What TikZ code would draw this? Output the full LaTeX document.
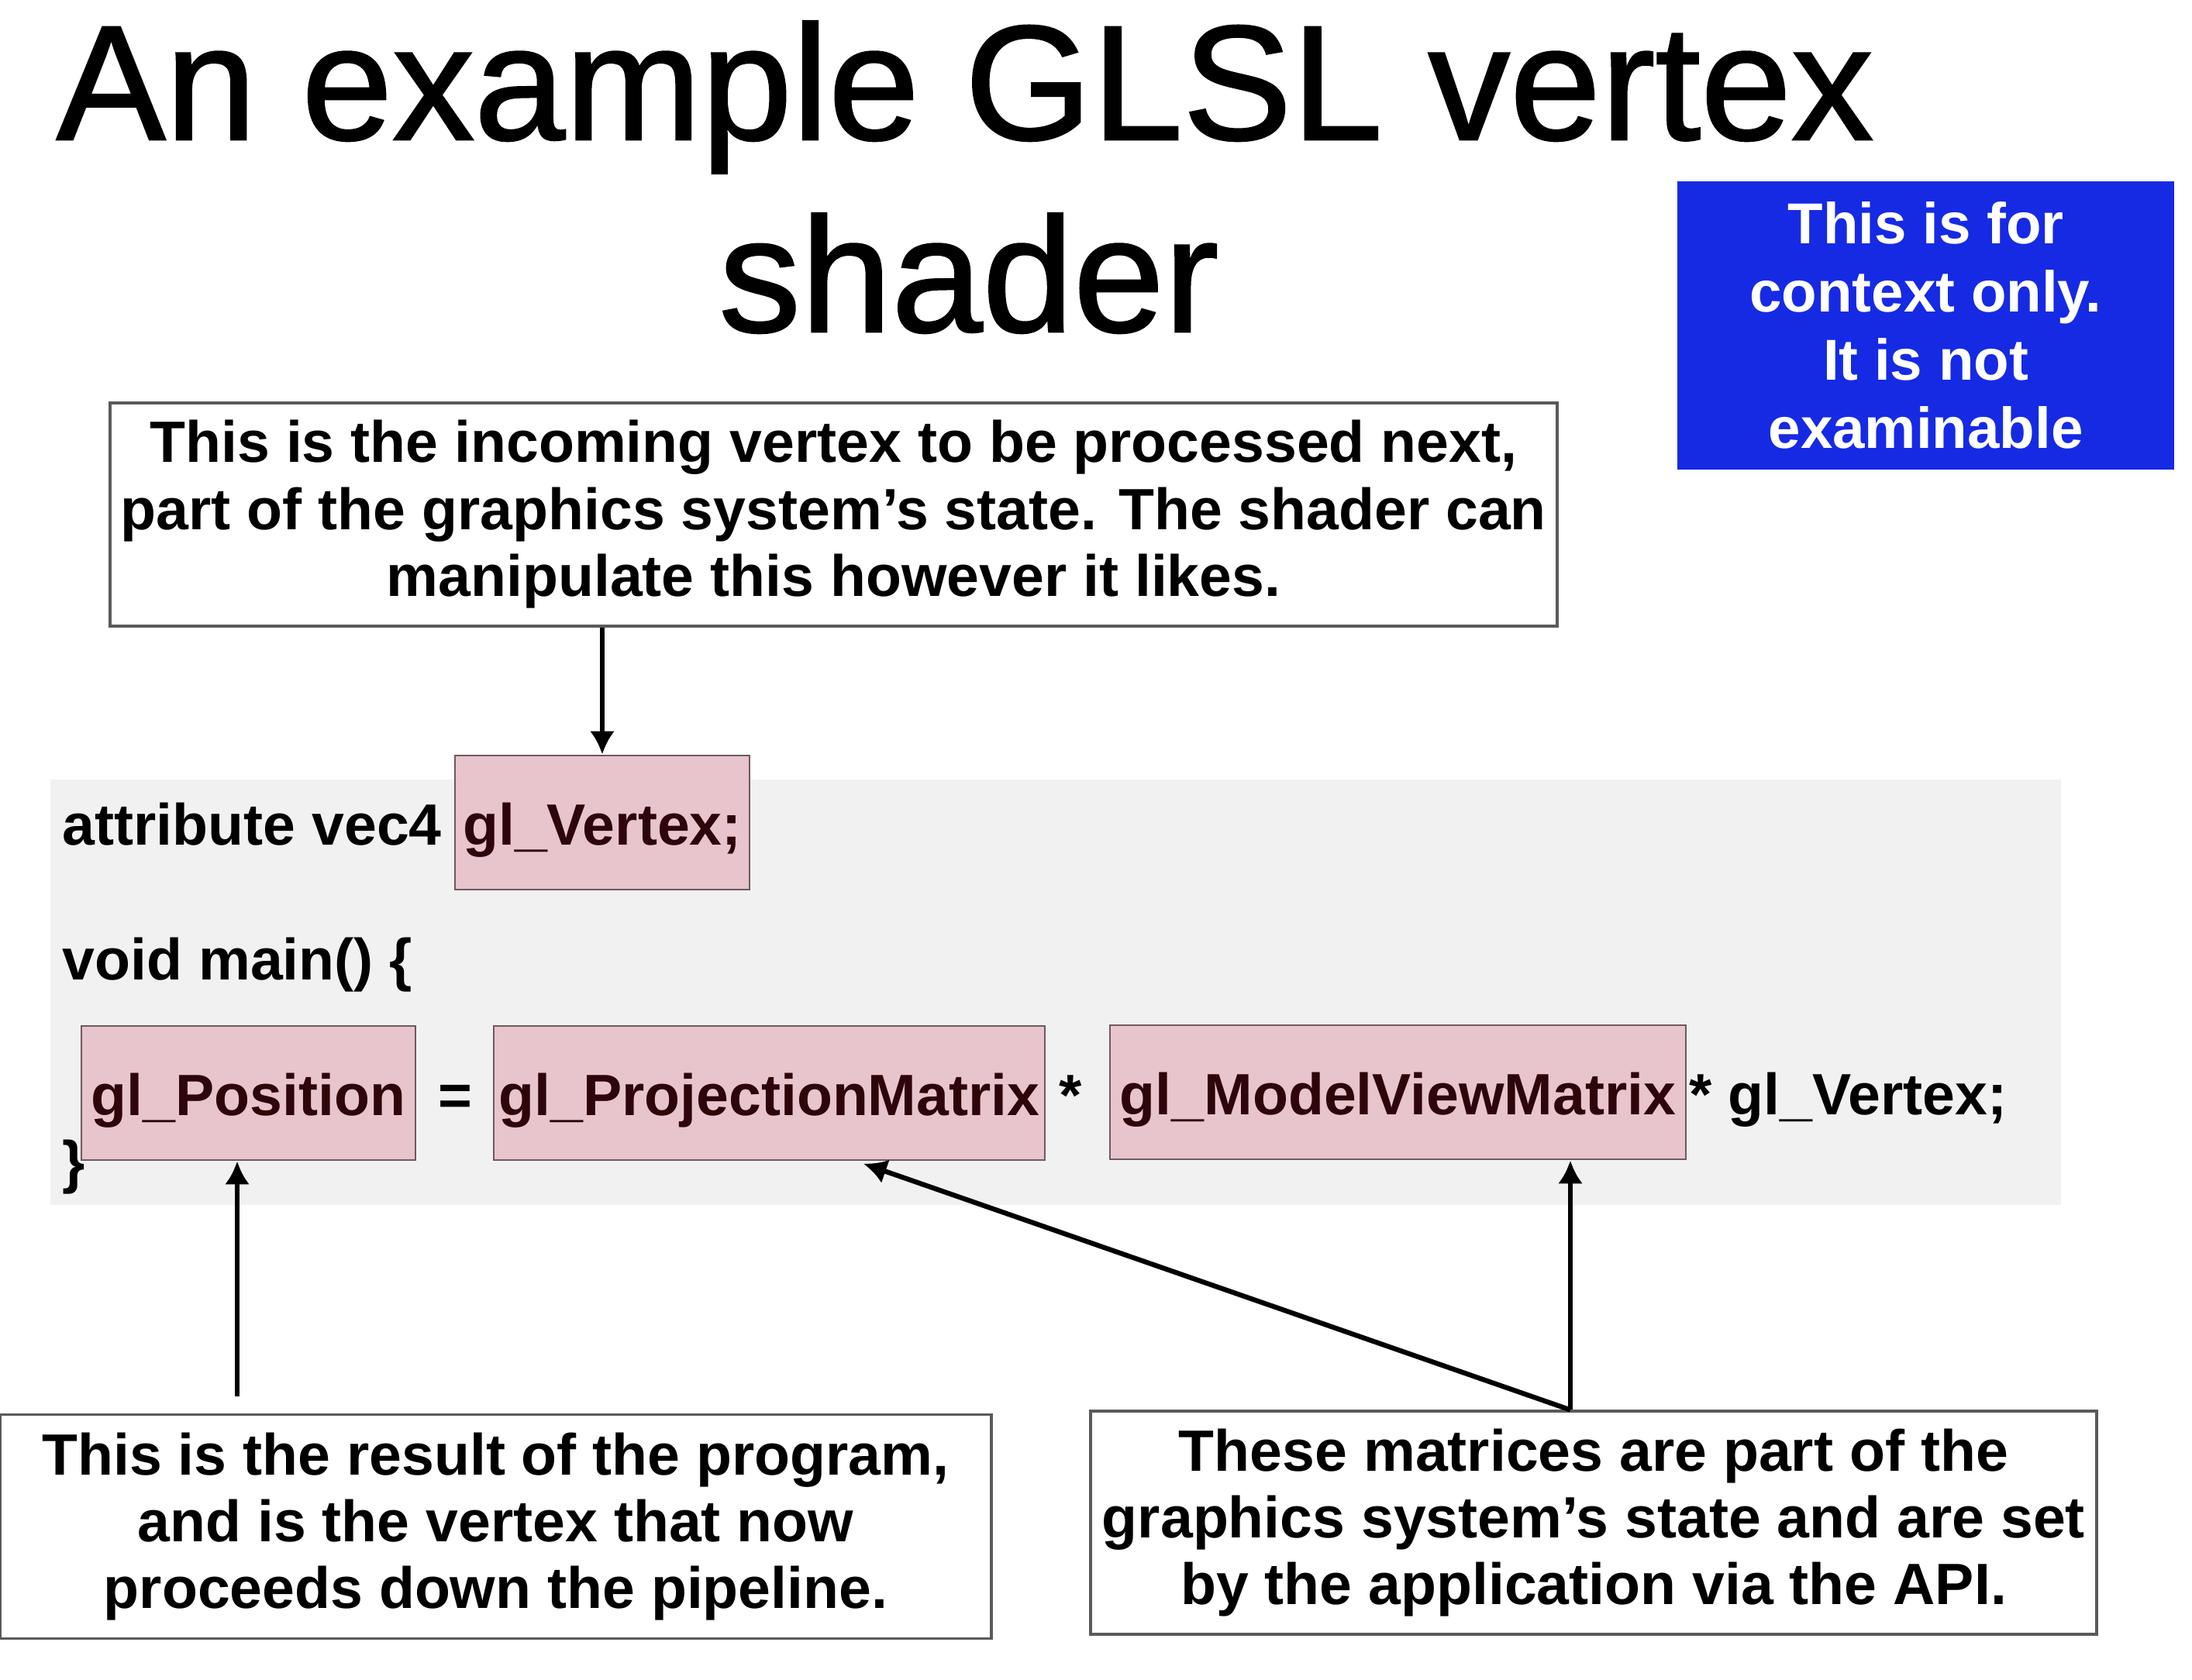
\documentclass[tikz,border=0pt]{standalone}
\usepackage{fontspec}
\setmainfont{Liberation Sans}
\newfontfamily\titlefont[FakeBold=1.2]{Liberation Sans}
\usepackage{tikz}
\usetikzlibrary{arrows.meta,positioning,calc}
\definecolor{notebg}{RGB}{22,42,228}
\definecolor{panelbg}{RGB}{241,241,241}
\definecolor{hlbg}{RGB}{232,196,205}
\definecolor{hlline}{RGB}{110,90,95}
\definecolor{hltext}{RGB}{45,5,10}
\definecolor{calline}{RGB}{90,90,90}
\tikzset{
  callout/.style={
    draw=calline,
    fill=white,
    line width=0.9pt,
    align=center,
    inner sep=0pt,
    font=\fontsize{21.4}{24.6}\selectfont\bfseries
  },
  notebox/.style={
    fill=notebg,
    text=white,
    align=center,
    inner sep=0pt,
    minimum width=6.41cm,
    minimum height=3.72cm,
    font=\fontsize{21.2}{25}\selectfont\bfseries
  },
  codebox/.style={
    draw=hlline,
    fill=hlbg,
    text=hltext,
    line width=0.8pt,
    inner sep=0pt,
    text height=1.15cm,
    text depth=0.58cm,
    anchor=base,
    font=\fontsize{21.4}{25}\selectfont\bfseries
  },
  codetext/.style={inner sep=0pt, font=\fontsize{21.4}{25}\selectfont\bfseries},
  titletext/.style={inner sep=0pt, anchor=base, font=\titlefont\fontsize{60}{70}\selectfont},
  arrow/.style={-{Latex[length=3mm,width=3.2mm]}, line width=1.8pt}
}

\begin{document}
\begin{tikzpicture}
  \useasboundingbox (0,0) rectangle (28.28,-21.68);

  \node[titletext] (title1) at (12.45,-1.80) {An example GLSL vertex};
  \node[titletext] (title2) at (12.50,-4.28) {shader};
  \node[notebox] (note) at (24.845,-4.20) {This is for\\context only.\\It is not\\examinable};
  \node[callout, minimum width=18.67cm, minimum height=2.88cm] (incoming) at (10.755,-6.64)
    {This is the incoming vertex to be processed next,\\part of the graphics system’s state. The shader can\\manipulate this however it likes.};

  % code panel
  \fill[panelbg] (0.65,-10.06) rectangle (26.59,-15.55);
  \node[codebox, minimum width=3.80cm] (vtx) at (7.77,-10.90) {gl\_Vertex;\hspace{0.22cm}};
  \node[codetext, anchor=base west] (attr) at (0.80,-10.90) {attribute vec4};
  \node[codetext, anchor=base west] (mainl) at (0.80,-12.64) {void main() \{};
  \node[codebox, minimum width=4.31cm] (pos) at (3.205,-14.39) {gl\_Position};
  \node[codetext, anchor=base] (eq) at (5.87,-14.39) {=};
  \node[codebox, minimum width=7.11cm] (proj) at (9.925,-14.39) {gl\_ProjectionMatrix\hspace{0.2cm}};
  \node[codetext, anchor=base] (times) at (13.81,-14.39) {*};
  \node[codebox, minimum width=7.43cm] (mv) at (18.035,-14.38) {gl\_ModelViewMatrix};
  \node[codetext, anchor=base west] (tail) at (21.79,-14.38) {* gl\_Vertex;};
  \node[codetext, anchor=base west] (close) at (0.80,-15.25) {\}};

  \node[callout, minimum width=12.79cm, minimum height=2.89cm] (result) at (6.395,-19.70)
    {This is the result of the program,\\and is the vertex that now\\proceeds down the pipeline.};
  \node[callout, minimum width=12.98cm, minimum height=2.88cm] (matrices) at (20.56,-19.65)
    {These matrices are part of the\\graphics system’s state and are set\\by the application via the API.};

  \coordinate (rx) at (3.06,0);
  \coordinate (fork) at ([xshift=-3mm]matrices.north);

  \draw[arrow] (incoming.south -| vtx) -- (vtx.north);
  \draw[arrow, shorten <=2.2mm] (result.north -| rx) -- (pos.south -| rx);
  \draw[arrow] (fork) -- (fork |- mv.south);
  \draw[arrow, shorten >=1mm] (fork) -- ([xshift=11.2mm]proj.south);
\end{tikzpicture}
\end{document}
